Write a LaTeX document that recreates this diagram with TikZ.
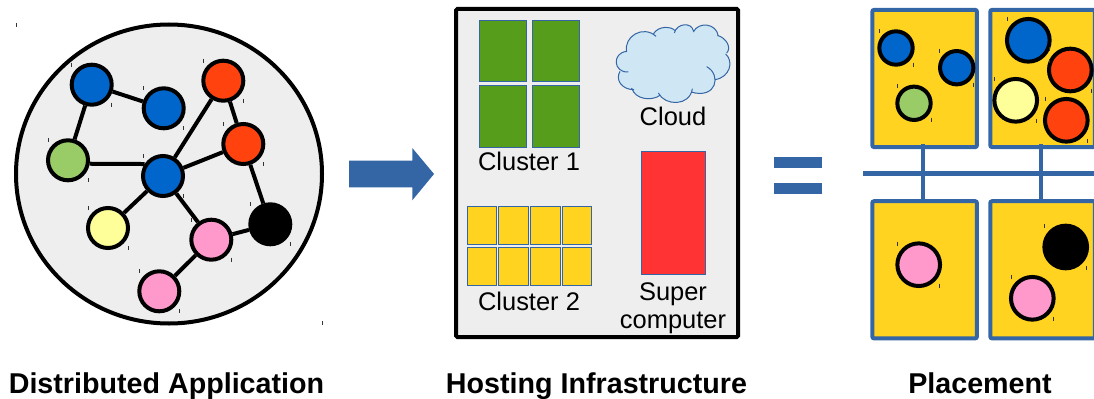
\documentclass[tikz,border=0pt]{standalone}
\usepackage{fontspec}
\setmainfont{Liberation Sans}
\usetikzlibrary{calc}
\definecolor{cgrey}{HTML}{EEEEEE}
\definecolor{cblue}{HTML}{0066CC}
\definecolor{cred}{HTML}{FF420E}
\definecolor{cgreen}{HTML}{99CC66}
\definecolor{cyellow}{HTML}{FFFF99}
\definecolor{cpink}{HTML}{FF99CC}
\definecolor{cgold}{HTML}{FFD320}
\definecolor{cleaf}{HTML}{579D1C}
\definecolor{cscarlet}{HTML}{FF3333}
\definecolor{csteel}{HTML}{3465A4}
\definecolor{ccloud}{HTML}{CFE7F5}
\tikzset{
  task/.style={circle,draw=black,line width=3pt,inner sep=0pt,minimum size=30pt},
  tasksmall/.style={task,minimum size=25pt},
  tasklarge/.style={task,minimum size=32pt},
  edge/.style={draw=black,line width=3pt},
  frame/.style={draw=black,line width=3pt,fill=cgrey,rounded corners=1pt},
  cell/.style={draw=csteel,line width=.75pt},
  hostbox/.style={rectangle,draw=csteel,line width=3pt,fill=cgold,rounded corners=1.5pt,inner sep=0pt,minimum width=78.5pt,minimum height=103pt},
  bus/.style={draw=csteel,line width=3.3pt},
  lab/.style={anchor=base,inner sep=0pt,font=\fontsize{19.1pt}{22pt}\selectfont},
  title/.style={anchor=base,inner sep=0pt,font=\fontsize{21.5pt}{25pt}\selectfont\bfseries},
  tick/.style={draw=black!80,line width=.6pt}
}
\newcommand{\tickmark}[2]{\draw[tick] (#1,#2-2) -- (#1,#2+2);}
\newcommand{\cornerticks}[2]{%
  \draw[tick] ($(#1)+(-#2,-#2-2)$) -- ($(#1)+(-#2,-#2+2)$);
  \draw[tick] ($(#1)+(#2,#2-2)$) -- ($(#1)+(#2,#2+2)$);}
\begin{document}
\begin{tikzpicture}[x=.75pt,y=-.75pt]
\useasboundingbox (0,0) rectangle (1094,399);
\clip (0,0) rectangle (1094,399);
% --- distributed application
\draw[line width=3pt,fill=cgrey] (169,174) ellipse [x radius=153,y radius=149.5];
\tickmark{16}{25}\tickmark{322.7}{323.3}
\node[task,fill=cblue] (a1) at (91.7,84.7) {};
\node[task,fill=cblue] (a2) at (163.7,108.3) {};
\node[task,fill=cred] (r1) at (223.3,80.7) {};
\node[task,fill=cred] (r2) at (243.3,144) {};
\node[task,fill=cgreen] (g) at (68,160.3) {};
\node[task,fill=cblue] (c) at (163,176) {};
\node[task,fill=cyellow] (y) at (108,228) {};
\node[task,fill=cpink] (p1) at (211.3,239.7) {};
\node[task,fill=black] (k) at (270.3,224.3) {};
\node[task,fill=cpink] (p2) at (159.3,291.3) {};
\foreach \n in {a1,a2,r1,r2,g,c,y,p1,k,p2} {\cornerticks{\n}{20}}
\draw[edge] (a1) -- (a2);
\draw[edge] (a1) -- (g);
\draw[edge] (g.-9) -- (c.147);
\draw[edge] (c) -- (r1);
\draw[edge] (c) -- (r2);
\draw[edge] (r1) -- (r2);
\draw[edge] (r2) -- (k);
\draw[edge] (c) -- (y);
\draw[edge] (c) -- (p1);
\draw[edge] (p1) -- (k);
\draw[edge] (p1) -- (p2);
% --- arrow
\fill[csteel] (349,160.7) -- (412.3,160.7) -- (412.3,148) -- (434,174) -- (412.3,200.3) -- (412.3,187.3) -- (349,187.3) -- cycle;
% --- hosting infrastructure
\draw[frame] (456,9) rectangle (738,337);
\foreach \xa/\xb in {479.3/526.7,532/579.3} \foreach \ya/\yb in {20.7/81.3,86/147}
  {\draw[cell,fill=cleaf] (\xa,\ya) rectangle (\xb,\yb);}
\foreach \xa/\xb in {467.3/496.7,498.7/528.3,530.3/560,562.3/591.7} \foreach \ya/\yb in {206.7/244.3,247.3/285.3}
  {\draw[cell,fill=cgold] (\xa,\ya) rectangle (\xb,\yb);}
\draw[cell,fill=cscarlet] (641,151) rectangle (705.7,274.3);
\begin{scope}[shift={(610,18)},x=.25pt,y=-.25pt]
\fill[ccloud] (50,102) .. controls (40,55) and (100,20) .. (138,55) -- (130,48)
  .. controls (145,22) and (185,25) .. (195,38) -- (193,45)
  .. controls (200,15) and (245,12) .. (250,38) -- (250,42)
  .. controls (265,10) and (320,15) .. (325,55) -- (322,52)
  .. controls (350,60) and (365,90) .. (350,105) -- (347,108)
  .. controls (372,130) and (360,178) .. (315,185)
  .. controls (320,205) and (290,240) .. (243,222) -- (247,212)
  .. controls (240,265) and (165,265) .. (145,225) -- (150,232)
  .. controls (125,250) and (75,245) .. (65,210) -- (72,215)
  .. controls (35,215) and (15,185) .. (30,160) -- (55,162)
  .. controls (10,165) and (5,105) .. (50,100) -- cycle;
\draw[csteel,line width=.75pt]
  (50,102) .. controls (40,55) and (100,20) .. (138,55)
  (130,48) .. controls (145,22) and (185,25) .. (195,38)
  (193,45) .. controls (200,15) and (245,12) .. (250,38)
  (250,42) .. controls (265,10) and (320,15) .. (325,55)
  (322,52) .. controls (350,60) and (365,90) .. (350,105)
  (347,108) .. controls (372,130) and (360,178) .. (315,185)
  (290,146) .. controls (335,170) and (320,245) .. (243,222)
  (247,212) .. controls (240,265) and (165,265) .. (145,225)
  (150,232) .. controls (125,250) and (75,245) .. (65,210)
  (72,215) .. controls (35,215) and (15,185) .. (30,160)
  (55,162) .. controls (10,165) and (5,105) .. (50,100);
\end{scope}
\node[lab] (tc1) at (529,171) {Cluster 1};
\node[lab] (tc2) at (529,310) {Cluster 2};
\node[lab] (tcl) at (673,125.5) {Cloud};
\node[lab] (tsu) at (673,300.5) {Super};
\node[lab] (tco) at (673,328) {computer};
% --- equals
\fill[csteel] (774,157.3) rectangle (822,167.7);
\fill[csteel] (774,183.3) rectangle (822,193.7);
% --- placement
\node[hostbox] (b1) at (924.6,78.5) {};
\node[hostbox] (b2) at (1042.6,78.5) {};
\node[hostbox] (b3) at (924.6,269.8) {};
\node[hostbox] (b4) at (1042.6,269.8) {};
\coordinate (busl) at (863.3,173.3);
\coordinate (busr) at (1094,173.3);
\coordinate (v1) at (923,144);
\coordinate (v2) at (1041,144);
\draw[bus] (busl) -- (busr);
\draw[bus] (v1) -- (v1 |- b3.north);
\draw[bus] (v2) -- (v2 |- b4.north);
\node[tasksmall,fill=cblue] (s1) at (896,48) {};
\node[tasksmall,fill=cblue] (s2) at (956.7,67.7) {};
\node[tasksmall,fill=cgreen] (s3) at (914,103.3) {};
\foreach \n in {s1,s2,s3} {\cornerticks{\n}{17}}
\node[tasklarge,fill=cblue] (l1) at (1028.3,40.3) {};
\node[tasklarge,fill=cred] (l2) at (1070.3,70) {};
\node[tasklarge,fill=cyellow] (l3) at (1015.7,100.3) {};
\node[tasklarge,fill=cred] (l4) at (1066.3,120.3) {};
\node[tasklarge,fill=cpink] (l5) at (918.7,264.7) {};
\node[tasklarge,fill=black] (l6) at (1065.7,247) {};
\node[tasklarge,fill=cpink] (l7) at (1032.3,298.3) {};
\foreach \n in {l1,l2,l3,l4,l5,l6,l7} {\cornerticks{\n}{21}}
% --- titles
\node[title] (t1) at (166.5,393) {Distributed Application};
\node[title] (t2) at (596.5,393) {Hosting Infrastructure};
\node[title] (t3) at (980,393) {Placement};
\end{tikzpicture}
\end{document}
